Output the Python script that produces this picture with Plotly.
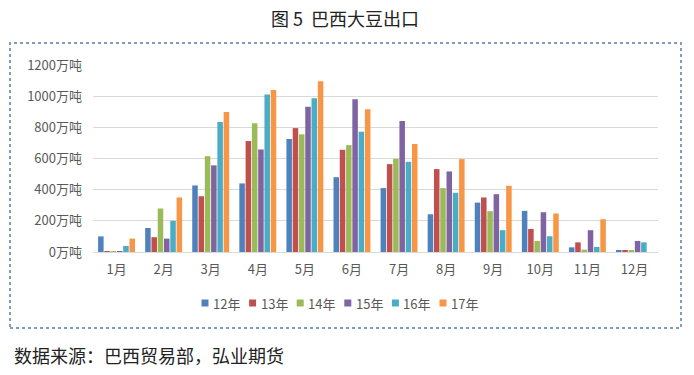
import plotly.graph_objects as go

months = ["1月", "2月", "3月", "4月", "5月", "6月", "7月", "8月", "9月", "10月", "11月", "12月"]
y12 = [100, 154, 427, 440, 725, 480, 410, 242, 317, 264, 30, 9]
y13 = [2, 95, 358, 712, 795, 656, 564, 532, 350, 148, 62, 9]
y14 = [4, 279, 615, 826, 755, 686, 598, 410, 262, 71, 15, 9]
y15 = [4, 86, 556, 658, 932, 980, 840, 517, 371, 255, 140, 71]
y16 = [39, 200, 834, 1010, 986, 772, 579, 380, 140, 101, 32, 62]
y17 = [86, 350, 898, 1040, 1096, 916, 693, 596, 425, 247, 210, None]
series_names = ["12年", "13年", "14年", "15年", "16年", "17年"]
tick_vals = [0, 200, 400, 600, 800, 1000, 1200]
tick_text = ["0万吨", "200万吨", "400万吨", "600万吨", "800万吨", "1000万吨", "1200万吨"]

colors = ["#4F81BD", "#C0504D", "#9BBB59", "#8064A2", "#4BACC6", "#F79646"]
W, H = 694, 375
L, R, T, B = 93, 658, 65, 252
FONT = "Noto Sans CJK SC"

fig = go.Figure()
for name, vals, c in zip(series_names, [y12, y13, y14, y15, y16, y17], colors):
    fig.add_trace(go.Bar(x=months, y=vals, name=name, marker=dict(color=c, line=dict(width=0)),
                         showlegend=False))

def px_x(p):
    return (p - L) / (R - L)

def px_y(p):
    return (B - p) / (B - T)

fig.add_shape(type="rect", xref="paper", yref="paper",
              x0=px_x(10), x1=px_x(681), y0=px_y(328), y1=px_y(43),
              line=dict(color="#7F9CC0", width=2, dash="dot"), layer="below")

# manual legend (compact, like the reference)
leg_x0, leg_dx, leg_y, sq = 205, 47.6, 303, 7
for i, (name, c) in enumerate(zip(series_names, colors)):
    sx = leg_x0 + i * leg_dx
    fig.add_shape(type="rect", xref="paper", yref="paper",
                  x0=px_x(sx - sq / 2), x1=px_x(sx + sq / 2),
                  y0=px_y(leg_y + sq / 2), y1=px_y(leg_y - sq / 2),
                  fillcolor=c, line=dict(width=0))
    fig.add_annotation(text=name, xref="paper", yref="paper",
                       x=px_x(sx + 6), y=px_y(leg_y), xanchor="left", yanchor="middle",
                       showarrow=False, font=dict(family=FONT, size=13, color="#595959"))

fig.add_annotation(text="图 5  巴西大豆出口", xref="paper", yref="paper",
                   x=px_x(345), y=px_y(18), xanchor="center", yanchor="middle",
                   showarrow=False, font=dict(family=FONT, size=18, color="#222222"))
fig.add_annotation(text="数据来源：巴西贸易部，弘业期货", xref="paper", yref="paper",
                   x=px_x(12), y=px_y(355), xanchor="left", yanchor="middle",
                   showarrow=False, font=dict(family=FONT, size=18, color="#222222"))

fig.update_layout(
    width=W, height=H,
    margin=dict(l=L, r=W - R, t=T, b=H - B, pad=0),
    paper_bgcolor="white", plot_bgcolor="white",
    barmode="group", bargap=0.2, bargroupgap=0.12,
    font=dict(family=FONT, size=13, color="#595959"),
    showlegend=False,
    xaxis=dict(showgrid=False, showline=True, linecolor="#D9D9D9", linewidth=1,
               ticks="", ticklabelstandoff=5,
               tickfont=dict(size=13, color="#595959"), fixedrange=True),
    yaxis=dict(range=[0, 1200], tickvals=tick_vals, ticktext=tick_text,
               showgrid=True, gridcolor="#D9D9D9", gridwidth=1, zeroline=False,
               showline=False, ticks="", ticklabelstandoff=10,
               tickfont=dict(size=13, color="#595959"), fixedrange=True),
)

fig.write_html("out.html", config={"displayModeBar": False},
               post_script="document.body.style.margin='0';document.body.style.overflow='hidden';")
